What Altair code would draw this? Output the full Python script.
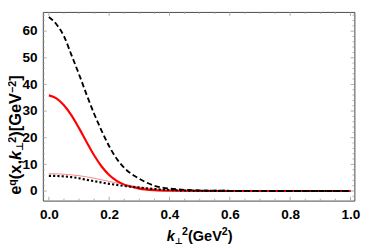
import altair as alt
import pandas as pd

# ---------------- data ----------------
k2 = [0, 0.025, 0.05, 0.075, 0.1, 0.125, 0.15, 0.175, 0.2, 0.225, 0.25,
      0.3, 0.35, 0.4, 0.5, 0.6, 0.7, 0.8, 0.9, 1.0]
dashed = [65.3, 62.6, 58.1, 51.0, 43.8, 36.2, 29.0, 22.6, 16.8, 12.1, 8.7,
          4.6, 2.0, 0.9, 0.25, 0.08, 0.03, 0.01, 0.0, 0.0]
red = [35.9, 34.8, 32.2, 28.4, 23.6, 18.4, 13.4, 9.2, 6.0, 3.8, 2.4,
       0.9, 0.3, 0.1, 0.02, 0.0, 0.0, 0.0, 0.0, 0.0]
dotted = [5.7, 5.65, 5.5, 5.2, 4.8, 4.2, 3.7, 3.2, 2.7, 2.3, 1.9,
          1.3, 0.75, 0.4, 0.1, 0.03, 0.01, 0.0, 0.0, 0.0]
thin_red = [6.5, 6.45, 6.3, 6.05, 5.75, 5.3, 4.8, 4.2, 3.6, 3.05, 2.5,
            1.5, 0.75, 0.35, 0.08, 0.02, 0.0, 0.0, 0.0, 0.0]

x_ticks = [0.0, 0.2, 0.4, 0.6, 0.8, 1.0]
x_minor = [0.05, 0.1, 0.15, 0.25, 0.3, 0.35, 0.45, 0.5, 0.55, 0.65, 0.7,
           0.75, 0.85, 0.9, 0.95]
y_ticks = [0, 10, 20, 30, 40, 50, 60]
y_minor = [-2, 2, 4, 6, 8, 12, 14, 16, 18, 22, 24, 26, 28, 32, 34, 36, 38,
           42, 44, 46, 48, 52, 54, 56, 58, 62, 64, 66]

df = pd.DataFrame({"k2": k2, "dashed": dashed, "red": red,
                   "dotted": dotted, "thin": thin_red})

W, H = 322, 195
FONT = "Liberation Sans"
xs = alt.Scale(domain=[-0.02, 1.013], nice=False, zero=False)
ys = alt.Scale(domain=[-3.6, 67.2], nice=False, zero=False)

axis_common = dict(labelFont=FONT, labelFontSize=14, labelFontWeight="bold",
                   labelColor="black", ticks=False, domain=False, grid=False,
                   title=None)
XAX = alt.Axis(values=x_ticks, format=".1f", labelPadding=7, **axis_common)
YAX = alt.Axis(values=y_ticks, format="d", labelPadding=6, **axis_common)

base = alt.Chart(df)

def line(col, **kw):
    return base.mark_line(interpolate="monotone", **kw).encode(
        x=alt.X("k2:Q", scale=xs, axis=XAX),
        y=alt.Y(f"{col}:Q", scale=ys, axis=YAX))

l_thin = line("thin", color="#ff0000", strokeWidth=0.8, opacity=0.6)
l_red = line("red", color="#ff0000", strokeWidth=2.2)
l_dash = line("dashed", color="black", strokeWidth=1.9, strokeDash=[5.5, 3])
l_dot = line("dotted", color="black", strokeWidth=2.2, strokeDash=[2.2, 2.2])

# frame ticks (inward)
def xt(vals, ln):
    d = alt.Chart(pd.DataFrame({"v": vals}))
    bot = d.mark_rule(color="#999", strokeWidth=0.8).encode(
        x=alt.X("v:Q", scale=xs, axis=XAX), y=alt.value(H), y2=alt.value(H - ln))
    top = d.mark_rule(color="#999", strokeWidth=0.8).encode(
        x=alt.X("v:Q", scale=xs, axis=XAX), y=alt.value(0), y2=alt.value(ln))
    return bot + top

def yt(vals, ln):
    d = alt.Chart(pd.DataFrame({"v": vals}))
    lft = d.mark_rule(color="#999", strokeWidth=0.8).encode(
        y=alt.Y("v:Q", scale=ys, axis=YAX), x=alt.value(0), x2=alt.value(ln))
    rgt = d.mark_rule(color="#999", strokeWidth=0.8).encode(
        y=alt.Y("v:Q", scale=ys, axis=YAX), x=alt.value(W), x2=alt.value(W - ln))
    return lft + rgt

ticks = xt(x_ticks, 4) + xt(x_minor, 2) + yt(y_ticks, 4) + yt(y_minor, 2)

# ---------------- rich-text titles ----------------
ADV = {'e': 556, 'q': 611, '(': 333, ')': 333, 'x': 556, ',': 278, 'k': 556,
       '[': 333, ']': 333, 'G': 778, 'V': 667, '2': 556, '−': 584, ' ': 278}

def adv(s, size):
    return sum(838 if c == '⊥' else ADV.get(c, 556) for c in s) / 1000 * size

def piece(txt, x, y, size, angle=0, style="normal", font=FONT):
    return alt.Chart(pd.DataFrame({"t": [txt]})).mark_text(
        text=txt, font=font, fontSize=size, fontWeight="bold",
        fontStyle=style, align="left", baseline="alphabetic",
        angle=angle, color="black").encode(x=alt.value(x), y=alt.value(y))

# pieces: (text, size, shift up, style, font)
x_parts = [("k", 15, 0, "italic", FONT), ("⊥", 9, -3, "normal", "DejaVu Sans"),
           ("2", 11, 6, "normal", FONT), ("(GeV", 15, 0, "normal", FONT),
           ("2", 11, 6, "normal", FONT), (")", 15, 0, "normal", FONT)]
y_parts = [("e", 17, 0, "normal", FONT), ("q", 11, 5, "normal", FONT),
           ("(x,", 17, 0, "normal", FONT), ("k", 17, 0, "italic", FONT),
           ("⊥", 10, -3, "normal", "DejaVu Sans"), ("2", 11, 5, "normal", FONT),
           (")[GeV", 17, 0, "normal", FONT), ("−2", 11, 5, "normal", FONT),
           ("]", 17, 0, "normal", FONT)]

titles = []
cx, base_y = 128, 237
for t, s, up, st, f in x_parts:
    titles.append(piece(t, cx, base_y - up, s, 0, st, f))
    cx += adv(t, s)

cy, base_x = 189, -23
for t, s, up, st, f in y_parts:
    titles.append(piece(t, base_x - up, cy, s, 270, st, f))
    cy -= adv(t, s)

chart = alt.layer(ticks, l_thin, l_red, l_dash, l_dot,
                  *titles).properties(
    width=W, height=H,
    autosize=alt.AutoSizeParams(type="none"),
    padding={"left": 36, "top": 0, "right": 12, "bottom": 48},
    background="white",
).configure_view(stroke="#444", strokeWidth=1)

chart.save("out.html", embed_options={"renderer": "svg", "actions": False})
